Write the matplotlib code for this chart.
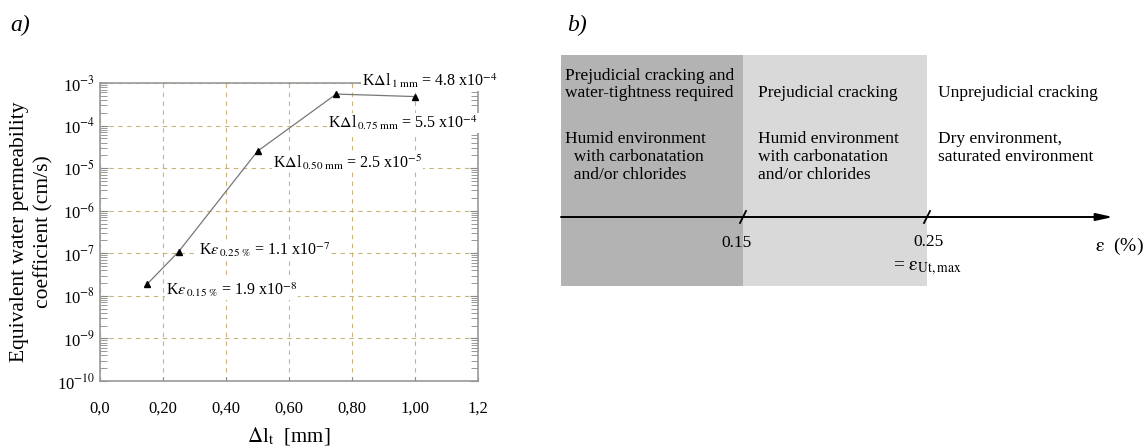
import matplotlib
matplotlib.use("Agg")
import matplotlib.pyplot as plt
from matplotlib.ticker import LogLocator, NullFormatter, FixedLocator, FixedFormatter
import numpy as np

plt.rcParams['font.family'] = ['Liberation Serif', 'DejaVu Serif']
plt.rcParams['mathtext.fontset'] = 'stix'

# ---- data (panel a) ----
crack_width = [0.15, 0.25, 0.50, 0.75, 1.00]
permeability = [1.9e-8, 1.1e-7, 2.5e-5, 5.5e-4, 4.8e-4]
x_ticks = [0.0, 0.2, 0.4, 0.6, 0.8, 1.0, 1.2]
x_ticklabels = ["0,0", "0,20", "0,40", "0,60", "0,80", "1,00", "1,2"]
y_decades = [-10, -9, -8, -7, -6, -5, -4, -3]
annotations = [
    (r"K$\Delta$l$_{\,\mathrm{1\ mm}}$ = 4.8 x10$^{-4}$", 0.832, 1.15e-3),
    (r"K$\Delta$l$_{\,\mathrm{0.75\ mm}}$ = 5.5 x10$^{-4}$", 0.724, 1.15e-4),
    (r"K$\Delta$l$_{\,\mathrm{0.50\ mm}}$ = 2.5 x10$^{-5}$", 0.549, 1.4e-5),
    (r"K$\varepsilon_{\,\mathrm{0.25\ \%}}$ = 1.1 x10$^{-7}$", 0.314, 1.2e-7),
    (r"K$\varepsilon_{\,\mathrm{0.15\ \%}}$ = 1.9 x10$^{-8}$", 0.210, 1.4e-8),
]

# ---- data (panel b) ----
thresholds = [0.15, 0.25]
threshold_labels = ["0.15", "0.25"]
zone_titles = ["Prejudicial cracking and\nwater-tightness required",
               "Prejudicial cracking",
               "Unprejudicial cracking"]
zone_envs = ["Humid environment\n  with carbonatation\n  and/or chlorides",
             "Humid environment\nwith carbonatation\nand/or chlorides",
             "Dry environment,\nsaturated environment"]
zone_colors = ["#b3b3b3", "#d9d9d9"]

W, H = 1147, 448
fig = plt.figure(figsize=(W / 100, H / 100), dpi=100)

# ================= panel a =================
ax = fig.add_axes([100 / W, 1 - 381 / H, 378 / W, 298 / H])
ax.plot(crack_width, permeability, color="#777777", lw=0.9, marker="^",
        ms=4, mfc="black", mec="black", zorder=3)
ax.set_yscale("log")
ax.set_xlim(0, 1.2)
ax.set_ylim(1e-10, 1e-3)
ax.xaxis.set_major_locator(FixedLocator(x_ticks))
ax.xaxis.set_major_formatter(FixedFormatter(x_ticklabels))
ax.yaxis.set_major_locator(FixedLocator([10.0 ** d for d in y_decades]))
ax.yaxis.set_major_formatter(FixedFormatter([r"10$^{%d}$" % d for d in y_decades]))
ax.yaxis.set_minor_locator(LogLocator(base=10, subs=np.arange(2, 10), numticks=20))
ax.yaxis.set_minor_formatter(NullFormatter())
ax.tick_params(axis="both", which="both", direction="in", colors="#888888",
               labelcolor="black", labelsize=12, right=True)
ax.tick_params(axis="y", which="major", length=6)
ax.tick_params(axis="y", which="minor", length=5)
ax.tick_params(axis="x", which="major", length=3, pad=14)
for s in ax.spines.values():
    s.set_color("#999999")
    s.set_linewidth(1.2)
ax.grid(True, which="major", color="#c8b478", linestyle=(0, (4, 4)), lw=0.8)
ax.set_axisbelow(True)

for txt, xx, yy in annotations:
    ax.text(xx, yy, txt, fontsize=11.5, va="center", ha="left", clip_on=False,
            zorder=5,
            bbox=dict(boxstyle="square,pad=0.05", fc="white", ec="none"))

ax.set_ylabel("Equivalent water permeability\ncoefficient (cm/s)", fontsize=15.5,
              linespacing=1.35)
ax.yaxis.set_label_coords(-0.122, 0.5)
ax.set_xlabel(r"$\Delta$l$_{\mathrm{t}}$  [mm]", fontsize=15, labelpad=6)

fig.text(10 / W, 1 - 25 / H, "a)", fontsize=17, style="italic", va="center")
fig.text(567 / W, 1 - 25 / H, "b)", fontsize=17, style="italic", va="center")

# ================= panel b =================
t0_px, t1_px = 743, 927
px_per_unit = (t1_px - t0_px) / (thresholds[1] - thresholds[0])
x0 = thresholds[0] - (t0_px - 540) / px_per_unit
x1 = thresholds[0] + (W - t0_px) / px_per_unit
bx = fig.add_axes([540 / W, 0, (W - 540) / W, 1])
bx.set_xlim(x0, x1)
bx.set_ylim(H, 0)
bx.axis("off")

def px(n):
    return n / px_per_unit

start = thresholds[0] - px(t0_px - 561)
end = thresholds[0] + px(1113 - t0_px)
edges = [start] + thresholds
box_top, box_bot = 55, 286
for i, c in enumerate(zone_colors):
    bx.fill_between([edges[i], edges[i + 1]], box_bot, box_top, color=c, lw=0)

axis_y = 217
bx.annotate("", xy=(end, axis_y), xytext=(start, axis_y),
            arrowprops=dict(arrowstyle="-|>,head_length=1.0,head_width=0.22",
                            color="black", lw=1.4, shrinkA=0, shrinkB=0))
for t in thresholds:
    bx.plot([t - px(3), t + px(3)], [axis_y + 6, axis_y - 6], color="black", lw=1.3)

bx.text(thresholds[0] - px(6), 243, threshold_labels[0], fontsize=12.5,
        ha="center", va="center")
bx.text(thresholds[1] + px(1), 242, threshold_labels[1], fontsize=12.5,
        ha="center", va="center")
bx.text(thresholds[1] - px(34), 268, r"= $\mathrm{\varepsilon}_{\mathrm{Ut,max}}$",
        fontsize=14, ha="left", va="center")
bx.text(end - px(18), 246, r"$\mathrm{\varepsilon}$  (%)", fontsize=14,
        ha="left", va="center")

title_x = [start + px(4), thresholds[0] + px(15), thresholds[1] + px(11)]
for i in range(3):
    n_lines = zone_titles[i].count("\n") + 1
    bx.text(title_x[i], 84.5 if n_lines == 2 else 93, zone_titles[i], fontsize=12.5,
            ha="left", va="center", linespacing=1.15)
    bx.text(title_x[i], 131, zone_envs[i], fontsize=12.5, ha="left", va="top",
            linespacing=1.15)

fig.savefig("out.png", dpi=100)
